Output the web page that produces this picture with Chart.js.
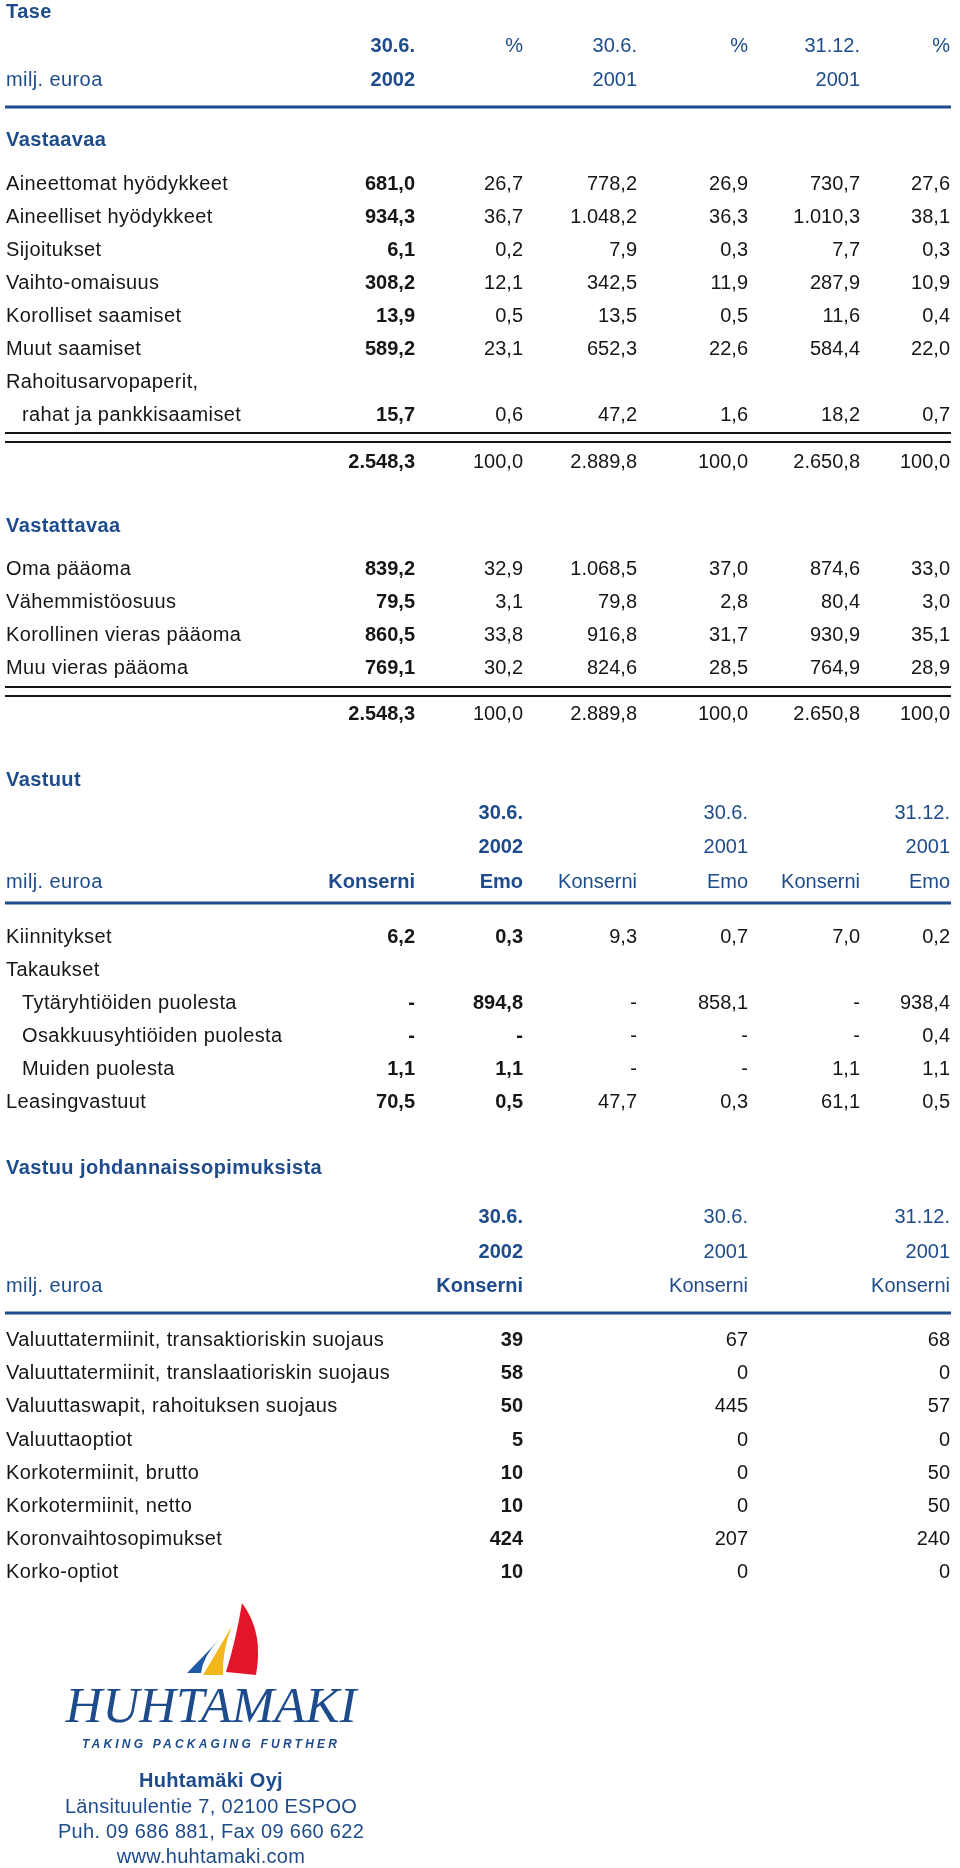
<!DOCTYPE html>
<html>
<head>
<meta charset="utf-8">
<script src="https://cdn.jsdelivr.net/npm/chart.js@4/dist/chart.umd.min.js"></script>
<style>
html,body{margin:0;padding:0;background:#fff;}
#wrap{position:relative;width:960px;height:1868px;}
</style>
</head>
<body>
<div id="wrap"><canvas id="c"></canvas></div>
<script>
// ---------------- DATA ----------------
const taseTitle = 'Tase';
const unitLabel = 'milj. euroa';
const taseHead1 = ['30.6.', '%', '30.6.', '%', '31.12.', '%'];
const taseHead2 = ['2002', '', '2001', '', '2001', ''];

const vastaavaaTitle = 'Vastaavaa';
const vastaavaaLabels = ['Aineettomat hyödykkeet', 'Aineelliset hyödykkeet', 'Sijoitukset', 'Vaihto-omaisuus',
  'Korolliset saamiset', 'Muut saamiset', 'Rahoitusarvopaperit,', 'rahat ja pankkisaamiset'];
const vastaavaaValues = [
  ['681,0', '26,7', '778,2', '26,9', '730,7', '27,6'],
  ['934,3', '36,7', '1.048,2', '36,3', '1.010,3', '38,1'],
  ['6,1', '0,2', '7,9', '0,3', '7,7', '0,3'],
  ['308,2', '12,1', '342,5', '11,9', '287,9', '10,9'],
  ['13,9', '0,5', '13,5', '0,5', '11,6', '0,4'],
  ['589,2', '23,1', '652,3', '22,6', '584,4', '22,0'],
  null,
  ['15,7', '0,6', '47,2', '1,6', '18,2', '0,7']
];
const vastaavaaTotal = ['2.548,3', '100,0', '2.889,8', '100,0', '2.650,8', '100,0'];

const vastattavaaTitle = 'Vastattavaa';
const vastattavaaLabels = ['Oma pääoma', 'Vähemmistöosuus', 'Korollinen vieras pääoma', 'Muu vieras pääoma'];
const vastattavaaValues = [
  ['839,2', '32,9', '1.068,5', '37,0', '874,6', '33,0'],
  ['79,5', '3,1', '79,8', '2,8', '80,4', '3,0'],
  ['860,5', '33,8', '916,8', '31,7', '930,9', '35,1'],
  ['769,1', '30,2', '824,6', '28,5', '764,9', '28,9']
];
const vastattavaaTotal = ['2.548,3', '100,0', '2.889,8', '100,0', '2.650,8', '100,0'];

const vastuutTitle = 'Vastuut';
const vastuutHead1 = ['', '30.6.', '', '30.6.', '', '31.12.'];
const vastuutHead2 = ['', '2002', '', '2001', '', '2001'];
const vastuutHead3 = ['Konserni', 'Emo', 'Konserni', 'Emo', 'Konserni', 'Emo'];
const vastuutLabels = ['Kiinnitykset', 'Takaukset', 'Tytäryhtiöiden puolesta', 'Osakkuusyhtiöiden puolesta',
  'Muiden puolesta', 'Leasingvastuut'];
const vastuutValues = [
  ['6,2', '0,3', '9,3', '0,7', '7,0', '0,2'],
  null,
  ['-', '894,8', '-', '858,1', '-', '938,4'],
  ['-', '-', '-', '-', '-', '0,4'],
  ['1,1', '1,1', '-', '-', '1,1', '1,1'],
  ['70,5', '0,5', '47,7', '0,3', '61,1', '0,5']
];

const johdTitle = 'Vastuu johdannaissopimuksista';
const johdHead1 = ['30.6.', '30.6.', '31.12.'];
const johdHead2 = ['2002', '2001', '2001'];
const johdHead3 = ['Konserni', 'Konserni', 'Konserni'];
const johdLabels = ['Valuuttatermiinit, transaktioriskin suojaus', 'Valuuttatermiinit, translaatioriskin suojaus',
  'Valuuttaswapit, rahoituksen suojaus', 'Valuuttaoptiot', 'Korkotermiinit, brutto', 'Korkotermiinit, netto',
  'Koronvaihtosopimukset', 'Korko-optiot'];
const johdValues = [
  ['39', '67', '68'],
  ['58', '0', '0'],
  ['50', '445', '57'],
  ['5', '0', '0'],
  ['10', '0', '50'],
  ['10', '0', '50'],
  ['424', '207', '240'],
  ['10', '0', '0']
];

const logoName = 'HUHTAMAKI';
const logoSlogan = 'TAKING PACKAGING FURTHER';
const contactLines = ['Huhtamäki Oyj', 'Länsituulentie 7, 02100 ESPOO', 'Puh. 09 686 881, Fax 09 660 622', 'www.huhtamaki.com'];

// ---------------- LAYOUT / STYLE ----------------
const BLUE = '#1d4b8c';
const INK = '#161616';
const SANS = '"Liberation Sans", Arial, Helvetica, sans-serif';
const SERIF = '"Liberation Serif", "Times New Roman", serif';
const L = {
  left: 6, indent: 22, ruleL: 5, ruleR: 951,
  col: [415, 523, 637, 748, 860, 950],
  johdCol: [1, 3, 5],
  tase: { title: 18, h1: 52, h2: 86, rule: 107, t1: 146, rows1: 190, tot1dbl: [433, 442], tot1: 468,
          t2: 532, rows2: 575, tot2dbl: [687, 696], tot2: 720 },
  vastuut: { title: 786, h1: 819, h2: 853, h3: 888, rule: 903, rows: 943 },
  johd: { title: 1174, h1: 1223, h2: 1258, h3: 1292, rule: 1313, rows: 1346 },
  pitch: 33, johdPitch: 33.2,
  logoCx: 211
};

// ---------------- DRAWING ----------------
function T(ctx, s, x, y, o) {
  o = o || {};
  ctx.save();
  ctx.font = (o.italic ? 'italic ' : '') + (o.bold ? 'bold ' : '') + (o.size || 20) + 'px ' + (o.family || SANS);
  ctx.fillStyle = o.color || INK;
  ctx.textAlign = o.align || 'left';
  ctx.textBaseline = 'alphabetic';
  try { ctx.letterSpacing = o.spacing || '0px'; } catch (e) {}
  ctx.fillText(s, x, y);
  ctx.restore();
}

const tablePlugin = {
  id: 'tablePlugin',
  afterDraw(chart) {
    const ctx = chart.ctx;
    const X = v => chart.scales.x.getPixelForValue(v);
    const Y = v => chart.scales.y.getPixelForValue(v);
    const rule = (y, h, color) => {
      ctx.save(); ctx.fillStyle = color;
      ctx.fillRect(X(L.ruleL), Y(y) - h / 2, X(L.ruleR) - X(L.ruleL), h);
      ctx.restore();
    };
    const label = (s, y, indent, color, bold) =>
      T(ctx, s, X(indent ? L.indent : L.left), Y(y), { spacing: '0.4px', color: color || INK, bold: !!bold });
    const valRow = (vals, y, boldCols, color) => {
      vals.forEach((v, i) => {
        if (!v) return;
        T(ctx, v, X(L.col[i]), Y(y), { align: 'right', bold: boldCols.includes(i), color: color || INK });
      });
    };

    // ---- Tase ----
    const t = L.tase;
    label(taseTitle, t.title, false, BLUE, true);
    valRow(taseHead1, t.h1, [0], BLUE);
    valRow(taseHead2, t.h2, [0], BLUE);
    label(unitLabel, t.h2, false, BLUE);
    rule(t.rule, 3, BLUE);
    label(vastaavaaTitle, t.t1, false, BLUE, true);
    vastaavaaLabels.forEach((s, i) => {
      const y = t.rows1 + i * L.pitch;
      label(s, y, i === 7);
      if (vastaavaaValues[i]) valRow(vastaavaaValues[i], y, [0]);
    });
    rule(t.tot1dbl[0], 2, INK); rule(t.tot1dbl[1], 2, INK);
    valRow(vastaavaaTotal, t.tot1, [0]);
    label(vastattavaaTitle, t.t2, false, BLUE, true);
    vastattavaaLabels.forEach((s, i) => {
      const y = t.rows2 + i * L.pitch;
      label(s, y, false);
      valRow(vastattavaaValues[i], y, [0]);
    });
    rule(t.tot2dbl[0], 2, INK); rule(t.tot2dbl[1], 2, INK);
    valRow(vastattavaaTotal, t.tot2, [0]);

    // ---- Vastuut ----
    const v = L.vastuut;
    label(vastuutTitle, v.title, false, BLUE, true);
    valRow(vastuutHead1, v.h1, [1], BLUE);
    valRow(vastuutHead2, v.h2, [1], BLUE);
    valRow(vastuutHead3, v.h3, [0, 1], BLUE);
    label(unitLabel, v.h3, false, BLUE);
    rule(v.rule, 3, BLUE);
    vastuutLabels.forEach((s, i) => {
      const y = v.rows + i * L.pitch;
      label(s, y, i >= 2 && i <= 4);
      if (vastuutValues[i]) valRow(vastuutValues[i], y, [0, 1]);
    });

    // ---- Johdannaiset ----
    const j = L.johd;
    label(johdTitle, j.title, false, BLUE, true);
    const spread = (arr) => { const o = ['', '', '', '', '', '']; arr.forEach((s, k) => o[L.johdCol[k]] = s); return o; };
    valRow(spread(johdHead1), j.h1, [1], BLUE);
    valRow(spread(johdHead2), j.h2, [1], BLUE);
    valRow(spread(johdHead3), j.h3, [1], BLUE);
    label(unitLabel, j.h3, false, BLUE);
    rule(j.rule, 3, BLUE);
    johdLabels.forEach((s, i) => {
      const y = j.rows + i * L.johdPitch;
      label(s, y, false);
      valRow(spread(johdValues[i]), y, [1]);
    });

    // ---- Logo ----
    const P = (pts, color) => {
      ctx.save(); ctx.fillStyle = color; ctx.beginPath();
      pts.forEach((p, k) => {
        if (p.length === 2) { k ? ctx.lineTo(X(p[0]), Y(p[1])) : ctx.moveTo(X(p[0]), Y(p[1])); }
        else ctx.quadraticCurveTo(X(p[0]), Y(p[1]), X(p[2]), Y(p[3]));
      });
      ctx.closePath(); ctx.fill(); ctx.restore();
    };
    P([[242, 1603], [264, 1632, 256, 1675], [226, 1672], [236, 1640, 242, 1603]], '#e3152b');
    P([[232, 1626], [222, 1650, 223, 1675], [203, 1675]], '#f2b71d');
    P([[219, 1640], [203, 1656, 201, 1673], [187, 1673]], '#1f5aa6');
    T(ctx, logoName, X(L.logoCx), Y(1722), { align: 'center', italic: true, size: 51, family: SERIF, color: BLUE, spacing: '0px' });
    T(ctx, logoSlogan, X(L.logoCx), Y(1748), { align: 'center', italic: true, bold: true, size: 12, color: BLUE, spacing: '3.2px' });
    const cy = [1787, 1813, 1838, 1863];
    contactLines.forEach((s, k) => T(ctx, s, X(L.logoCx), Y(cy[k]), { align: 'center', bold: k === 0, color: BLUE, spacing: '0.3px' }));
  }
};

new Chart(document.getElementById('c'), {
  type: 'scatter',
  data: { datasets: [{ data: [], pointRadius: 0 }] },
  options: {
    responsive: true, maintainAspectRatio: false, animation: false, devicePixelRatio: 1,
    layout: { padding: 0 },
    plugins: { legend: { display: false }, tooltip: { enabled: false } },
    scales: {
      x: { type: 'linear', min: 0, max: 960, display: false },
      y: { type: 'linear', min: 0, max: 1868, reverse: true, display: false }
    }
  },
  plugins: [tablePlugin]
});
</script>
</body>
</html>
